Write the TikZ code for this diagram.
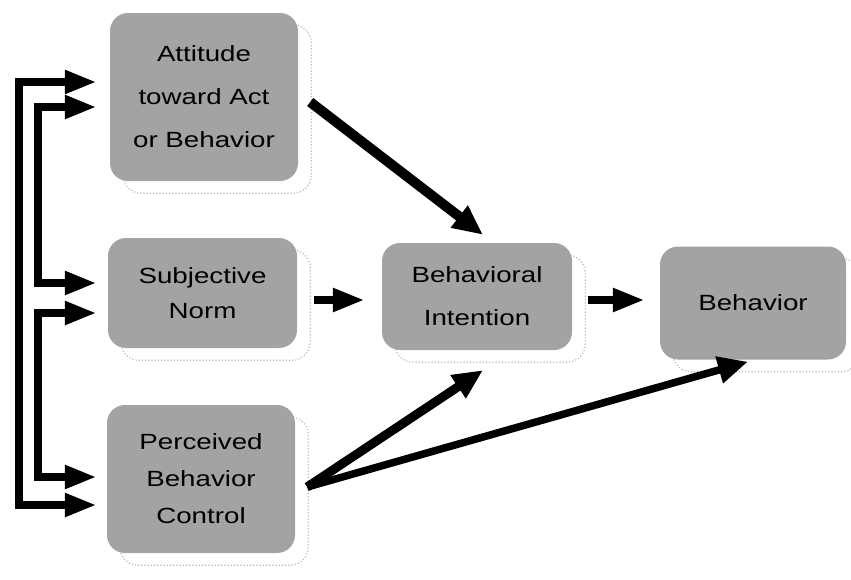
\documentclass[tikz,border=0pt]{standalone}
\usepackage{fontspec}
\setmainfont{Liberation Sans}
\usetikzlibrary{arrows.meta,calc,backgrounds}
\newcommand\wt[2]{\scalebox{1.26}[1]{\parbox{140pt}{\centering\fontsize{22}{#1}\selectfont #2}}}
\tikzset{
  box/.style={fill=black!36, rounded corners=18pt, inner sep=0pt},
  shad/.style={draw=gray!55, dotted, line width=1.2pt, rounded corners=18pt},
  bigarrow/.style={line width=9pt, -{Triangle[length=30pt,width=26pt]}},
  fb/.style={line width=8.5pt, line join=miter, {Triangle[length=32pt,width=22pt]}-{Triangle[length=32pt,width=22pt]}},
}
\begin{document}
\begin{tikzpicture}[x=1pt,y=-1pt]
\useasboundingbox (0,0) rectangle (851,579);

% boxes
\node[box, minimum width=188pt, minimum height=168pt] (att) at (204,97) {\wt{43}{Attitude\\toward Act\\or Behavior}};
\node[box, minimum width=189pt, minimum height=110pt] (sub) at (202.5,293) {\wt{35}{Subjective\\Norm}};
\node[box, minimum width=188pt, minimum height=148pt] (pbc) at (201,479) {\wt{37}{Perceived\\Behavior\\Control}};
\node[box, minimum width=190pt, minimum height=107pt] (bi) at (477,296.5) {\wt{43}{Behavioral\\Intention}};
\node[box, minimum width=186pt, minimum height=113pt] (beh) at (753,303) {\wt{26}{Behavior}};

% shadows
\begin{scope}[on background layer]
  \foreach \n in {att,sub,pbc,bi,beh}{
    \draw[shad] ($(\n.north west)+(13,12)$) rectangle ($(\n.south east)+(13,12)$);
  }
\end{scope}

% feedback connectors on the left
\coordinate (vo) at (19,0);
\coordinate (vi) at (38,0);
\coordinate (a1) at ($(att.west)+(-13,-15)$);
\coordinate (a2) at ($(att.west)+(-13,10)$);
\coordinate (s1) at ($(sub.west)+(-11,-10)$);
\coordinate (s2) at ($(sub.west)+(-11,20)$);
\coordinate (p1) at ($(pbc.west)+(-10,-2)$);
\coordinate (p2) at ($(pbc.west)+(-10,26)$);
\draw[fb] (a1) -- (a1 -| vo) -- (p2 -| vo) -- (p2);
\draw[fb] (a2) -- (a2 -| vi) -- (s1 -| vi) -- (s1);
\draw[fb] (s2) -- (s2 -| vi) -- (p1 -| vi) -- (p1);

% main arrows
\coordinate (attS) at ($(att.east)+(12,5)$);
\coordinate (biN) at ($(bi.north)+(6,-8)$);
\coordinate (subS) at ($(sub.east)+(17,7)$);
\coordinate (biW) at ($(bi.west)+(-17,3.5)$);
\coordinate (biE) at ($(bi.east)+(16,3.5)$);
\coordinate (behW) at ($(beh.west)+(-15,-3)$);
\coordinate (pbcS) at ($(pbc.east)+(12,8)$);
\coordinate (biS) at ($(bi.south)+(6,20)$);
\coordinate (behS) at ($(beh.south)+(-5,2)$);

\draw[bigarrow, line width=10pt] (attS) -- (biN);
\draw[bigarrow, line width=8pt, -{Triangle[length=32pt,width=22pt]}] (subS) -- (biW);
\draw[bigarrow, line width=8pt, -{Triangle[length=32pt,width=22pt]}] (biE) -- (behW);
\draw[bigarrow] (pbcS) -- (biS);
\draw[bigarrow, line width=7.5pt] (pbcS) -- (behS);
\end{tikzpicture}
\end{document}
